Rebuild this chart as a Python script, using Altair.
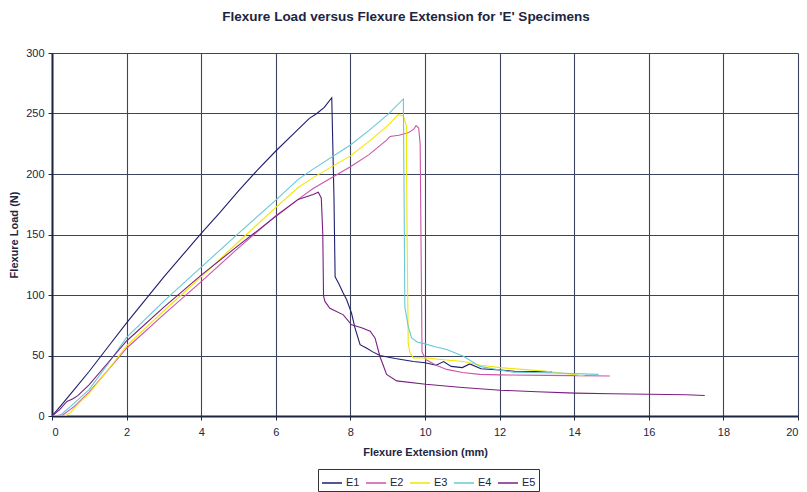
import altair as alt
import pandas as pd

series_names = ["E1", "E2", "E3", "E4", "E5"]
series_colors = ["#1f1d6e", "#cc55aa", "#f2e600", "#66c8d8", "#7a1f80"]

E1_x = [0, 0.25, 0.6, 1.0, 1.5, 2.0, 2.5, 3.0, 3.5, 4.0, 4.5, 5.0, 5.5, 6.0, 6.5, 6.9, 7.1, 7.3, 7.5,
        7.56, 7.59, 7.68, 7.8, 7.9, 8.03, 8.12, 8.26, 8.44, 8.6, 8.79, 9.2, 9.69, 10.0, 10.3, 10.5,
        10.7, 11.0, 11.2, 11.5, 12.0, 12.4, 12.9, 13.4]
E1_y = [0, 9, 22, 37, 57, 77, 96, 115, 133, 151, 168, 186, 203, 219, 234, 246, 250, 255, 263,
        180, 115, 110, 102, 96, 85, 73, 59, 56, 53, 50, 47.5, 45, 44, 42, 45,
        41, 40, 43, 39, 38, 37, 36.8, 36.5]

E2_x = [0, 0.3, 0.6, 1.0, 1.5, 2.0, 3.0, 4.0, 5.0, 6.0, 6.6, 7.0, 8.0, 8.5, 8.97, 9.06, 9.3, 9.55,
        9.7, 9.76, 9.83, 9.87, 9.9, 9.92, 10.02, 10.3, 10.58, 11.0, 11.47, 12.0, 13.26, 14.0, 14.96]
E2_y = [0, 1, 8, 20, 38, 56, 84, 111, 139, 165.5, 179, 188, 206, 216, 228, 231, 232, 234,
        237, 240, 238, 225, 120, 53, 46.7, 42, 38.5, 36, 34.4, 34, 33.6, 33.4, 33]

E3_x = [0, 0.35, 0.5, 0.7, 1.0, 1.5, 2.0, 3.0, 4.0, 5.0, 6.0, 6.6, 7.0, 8.0, 8.5, 9.0, 9.28, 9.42,
        9.5, 9.52, 9.55, 9.6, 9.69, 10.02, 10.5, 11.03, 11.5, 12.02, 12.6, 13.26, 14.29]
E3_y = [0, 0, 3, 10, 19, 38, 58, 87, 115, 144, 172.4, 188.8, 197, 215, 227, 240, 249, 248,
        240, 150, 60, 52, 48, 48, 46.5, 45, 42, 40, 38.5, 37, 33]

E4_x = [0, 0.2, 0.5, 1.0, 1.5, 2.0, 3.0, 4.0, 5.0, 6.0, 6.6, 7.0, 8.0, 8.5, 9.0, 9.42, 9.44, 9.46,
        9.55, 9.64, 9.8, 9.95, 10.3, 10.58, 11.03, 11.47, 12.0, 12.37, 13.5, 14.65]
E4_y = [0, 0, 8, 22, 43, 65, 95, 123, 151, 178.4, 195.6, 204, 224, 236, 249, 262, 180, 90,
        74, 64.5, 61, 60, 57, 55, 49.4, 41, 38, 36.3, 35.5, 34.4]

E5_x = [0, 0.2, 0.4, 0.55, 0.7, 1.0, 1.5, 2.0, 3.0, 4.0, 5.0, 6.0, 6.6, 7.0, 7.14, 7.22, 7.26, 7.28,
        7.32, 7.45, 7.81, 8.03, 8.3, 8.53, 8.66, 8.79, 8.97, 9.24, 10.02, 11.0, 12.02, 13.0, 14.02,
        15.0, 16.0, 17.0, 17.5]
E5_y = [0, 5, 12, 14, 17, 26, 44, 62, 90, 116.4, 141, 165, 179, 183, 185, 180, 150, 99,
        94.5, 89, 83.6, 75.4, 73, 70, 64.5, 49.4, 34.4, 29, 26.2, 23.5, 21.3, 20, 18.9,
        18.4, 18, 17.5, 17]

x_ticks = list(range(0, 21, 2))
y_ticks = list(range(0, 301, 50))

rows = []
for name, xs, ys in zip(series_names, [E1_x, E2_x, E3_x, E4_x, E5_x], [E1_y, E2_y, E3_y, E4_y, E5_y]):
    for i, (xv, yv) in enumerate(zip(xs, ys)):
        rows.append({"series": name, "i": i, "x": xv, "y": yv})
df = pd.DataFrame(rows)

FONT = "Liberation Sans"
TXT = "#1e2540"
GRID = "#3c4460"

chart = alt.Chart(df).mark_line(strokeWidth=1.1, clip=True).encode(
    x=alt.X("x:Q", scale=alt.Scale(domain=[0, 20], nice=False),
            axis=alt.Axis(title="Flexure Extension (mm)", values=x_ticks, format="d",
                          grid=True, gridColor=GRID, gridWidth=1.1,
                          domainColor=TXT, domainWidth=2, tickColor=TXT, tickSize=4,
                          labelFont=FONT, labelFontSize=11, labelColor=TXT, labelPadding=6,
                          titleFont=FONT, titleFontSize=11, titleFontWeight="bold",
                          titleColor=TXT, titlePadding=9)),
    y=alt.Y("y:Q", scale=alt.Scale(domain=[0, 300], nice=False),
            axis=alt.Axis(title="Flexure Load (N)", values=y_ticks, format="d",
                          grid=True, gridColor=GRID, gridWidth=1.1,
                          domainColor=TXT, domainWidth=2, tickColor=TXT, tickSize=4,
                          labelFont=FONT, labelFontSize=11, labelColor=TXT, labelPadding=4,
                          titleFont=FONT, titleFontSize=11, titleFontWeight="bold",
                          titleColor=TXT, titlePadding=6)),
    color=alt.Color("series:N",
                    scale=alt.Scale(domain=series_names, range=series_colors),
                    legend=alt.Legend(title=None, orient="none", legendX=266, legendY=416,
                                      direction="horizontal", symbolType="stroke",
                                      symbolSize=400, symbolStrokeWidth=1.5,
                                      labelFont=FONT, labelFontSize=11, labelColor=TXT,
                                      columnPadding=3, labelOffset=3,
                                      strokeColor="#333", padding=3)),
    order=alt.Order("i:Q"),
).properties(
    width=746, height=363,
    title=alt.TitleParams("Flexure Load versus Flexure Extension for 'E' Specimens",
                          font=FONT, fontSize=13.5, fontWeight="bold", color=TXT,
                          anchor="middle", offset=24, dx=-19),
    autosize=alt.AutoSizeParams(type="none"),
    padding={"left": 52, "top": 53, "right": 9, "bottom": 76},
).configure_view(stroke=None)

chart.save("out.html", embed_options={"renderer": "svg", "actions": False})
